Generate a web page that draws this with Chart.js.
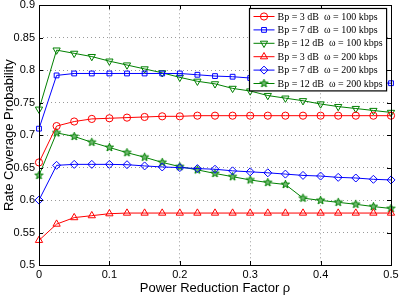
<!DOCTYPE html>
<html>
<head>
<meta charset="utf-8">
<script src="https://cdn.jsdelivr.net/npm/chart.js@4.4.1/dist/chart.umd.min.js"></script>
<style>
  html, body { margin: 0; padding: 0; background: #fff; }
  #wrap { width: 402px; height: 300px; }
</style>
</head>
<body>
<div id="wrap"><canvas id="chart" width="402" height="300"></canvas></div>
<script>
// Power reduction factor rho (x) and tick labels
const rho = [0, 0.025, 0.05, 0.075, 0.1, 0.125, 0.15, 0.175, 0.2, 0.225, 0.25,
  0.275, 0.3, 0.325, 0.35, 0.375, 0.4, 0.425, 0.45, 0.475, 0.5];
const xTicks = [0, 0.1, 0.2, 0.3, 0.4, 0.5];
const yTicks = [0.5, 0.55, 0.6, 0.65, 0.7, 0.75, 0.8, 0.85, 0.9];

// Rate coverage probability per curve
const bp3w100 = [0.658, 0.714, 0.721, 0.725, 0.726, 0.727, 0.728, 0.729, 0.729, 0.730, 0.730,
  0.730, 0.730, 0.730, 0.730, 0.730, 0.730, 0.730, 0.730, 0.730, 0.730];
const bp7w100 = [0.710, 0.792, 0.795, 0.795, 0.795, 0.795, 0.795, 0.795, 0.795, 0.793, 0.791,
  0.790, 0.788, 0.787, 0.786, 0.785, 0.784, 0.783, 0.782, 0.781, 0.780];
const bp12w100 = [0.740, 0.831, 0.826, 0.821, 0.814, 0.808, 0.802, 0.796, 0.789, 0.783, 0.779,
  0.772, 0.768, 0.761, 0.757, 0.753, 0.748, 0.744, 0.741, 0.738, 0.735];
const bp3w200 = [0.538, 0.563, 0.573, 0.576, 0.579, 0.580, 0.580, 0.580, 0.580, 0.580, 0.580,
  0.580, 0.580, 0.580, 0.580, 0.580, 0.580, 0.580, 0.580, 0.580, 0.580];
const bp7w200 = [0.600, 0.6535, 0.655, 0.655, 0.655, 0.6545, 0.6526, 0.651, 0.650, 0.6485, 0.6475,
  0.645, 0.6435, 0.642, 0.640, 0.638, 0.637, 0.635, 0.634, 0.632, 0.631];
const bp12w200 = [0.638, 0.7035, 0.698, 0.689, 0.681, 0.673, 0.666, 0.658, 0.6515, 0.6465, 0.641,
  0.636, 0.631, 0.627, 0.624, 0.603, 0.5995, 0.5965, 0.5935, 0.590, 0.587];

const seriesLabels = [
  'Bp = 3 dB  \u03C9 = 100 kbps',
  'Bp = 7 dB  \u03C9 = 100 kbps',
  'Bp = 12 dB  \u03C9 = 100 kbps',
  'Bp = 3 dB  \u03C9 = 200 kbps',
  'Bp = 7 dB  \u03C9 = 200 kbps',
  'Bp = 12 dB  \u03C9 = 200 kbps'
];

const RED = '#ff0000';
const BLUE = '#0000ff';
const GREEN = '#008000';

// pentagram marker (Chart.js has no 5-point star)
function makeStar(color, r) {
  const size = Math.ceil(r * 2 + 2);
  const c = document.createElement('canvas');
  c.width = size; c.height = size;
  const g = c.getContext('2d');
  const cx = size / 2, cy = size / 2;
  g.beginPath();
  for (let i = 0; i < 10; i++) {
    const rad = i % 2 === 0 ? r : r * 0.42;
    const a = -Math.PI / 2 + i * Math.PI / 5;
    const px = cx + rad * Math.cos(a), py = cy + rad * Math.sin(a);
    if (i === 0) g.moveTo(px, py); else g.lineTo(px, py);
  }
  g.closePath();
  g.fillStyle = '#6fb86f';
  g.fill();
  g.strokeStyle = color;
  g.lineWidth = 1;
  g.stroke();
  return c;
}
const star = makeStar(GREEN, 4.3);

function series(label, values, color, style, extra) {
  return Object.assign({
    label,
    data: values.map((v, i) => ({ x: rho[i], y: v })),
    borderColor: color,
    backgroundColor: 'rgba(0,0,0,0)',
    borderWidth: 1,
    pointStyle: style,
    pointRadius: 3.6,
    pointBorderWidth: 1,
    pointBorderColor: color,
    pointBackgroundColor: 'rgba(0,0,0,0)',
    tension: 0,
    clip: false
  }, extra || {});
}

const datasets = [
  series(seriesLabels[0], bp3w100, RED, 'circle'),
  series(seriesLabels[1], bp7w100, BLUE, 'rect', { pointRadius: 3.4 }),
  series(seriesLabels[2], bp12w100, GREEN, 'triangle', { pointRotation: 180, pointRadius: 4.2 }),
  series(seriesLabels[3], bp3w200, RED, 'triangle', { pointRadius: 4.2 }),
  series(seriesLabels[4], bp7w200, BLUE, 'rectRot', { pointRadius: 4 }),
  series(seriesLabels[5], bp12w200, GREEN, star, { pointRadius: 4.3 })
];

// axes box with inward ticks, MATLAB style
const framePlugin = {
  id: 'frame',
  afterDatasetsDraw(chart) {
    const { ctx, chartArea: a, scales } = chart;
    ctx.save();
    ctx.strokeStyle = '#000';
    ctx.lineWidth = 1;
    ctx.strokeRect(Math.round(a.left) + 0.5, Math.round(a.top) + 0.5,
      Math.round(a.right - a.left), Math.round(a.bottom - a.top));
    ctx.beginPath();
    for (const t of xTicks) {
      const px = Math.round(scales.x.getPixelForValue(t)) + 0.5;
      ctx.moveTo(px, a.bottom); ctx.lineTo(px, a.bottom - 4);
      ctx.moveTo(px, a.top); ctx.lineTo(px, a.top + 4);
    }
    for (const t of yTicks) {
      const py = Math.round(scales.y.getPixelForValue(t)) + 0.5;
      ctx.moveTo(a.left, py); ctx.lineTo(a.left + 4, py);
      ctx.moveTo(a.right, py); ctx.lineTo(a.right - 4, py);
    }
    ctx.stroke();
    ctx.restore();
  }
};

// legend box inside the axes, top right
const boxLegend = {
  id: 'boxLegend',
  afterDraw(chart) {
    const { ctx, chartArea: a } = chart;
    const rowH = 13.4;
    ctx.save();
    ctx.font = '10px "Liberation Serif", "Times New Roman", serif';
    let tw = 0;
    for (const ds of chart.data.datasets) tw = Math.max(tw, ctx.measureText(ds.label).width);
    const w = 28 + tw + 4;
    const h = rowH * chart.data.datasets.length + 2;
    const right = a.right - 5;
    const left = Math.round(right - w) + 0.5;
    const top = Math.round(a.top + 3) + 0.5;
    ctx.fillStyle = '#fff';
    ctx.fillRect(left, top, w, h);
    ctx.strokeStyle = '#000';
    ctx.lineWidth = 1.2;
    ctx.strokeRect(left, top, w, h);
    ctx.textBaseline = 'middle';
    chart.data.datasets.forEach((ds, i) => {
      const y = top + 8 + i * rowH;
      ctx.strokeStyle = ds.borderColor;
      ctx.lineWidth = 1;
      ctx.beginPath();
      ctx.moveTo(left + 4, y); ctx.lineTo(left + 25, y);
      ctx.stroke();
      ctx.fillStyle = 'rgba(0,0,0,0)';
      Chart.helpers.drawPoint(ctx, {
        pointStyle: ds.pointStyle,
        radius: ds.pointRadius,
        rotation: ds.pointRotation || 0,
        borderWidth: 1
      }, left + 14.5, y);
      ctx.fillStyle = '#000';
      ctx.fillText(ds.label, left + 28, y + 0.5);
    });
    ctx.restore();
  }
};

const tickFont = { family: '"Liberation Sans", Arial, Helvetica, sans-serif', size: 11 };
const titleFont = { family: '"Liberation Sans", Arial, Helvetica, sans-serif', size: 13 };

new Chart(document.getElementById('chart'), {
  type: 'line',
  data: { datasets },
  options: {
    responsive: false,
    animation: false,
    layout: { padding: { top: -2, right: 11, left: 0, bottom: 0 } },
    plugins: { legend: { display: false }, tooltip: { enabled: false } },
    scales: {
      x: {
        type: 'linear',
        min: 0,
        max: 0.5,
        afterBuildTicks: s => { s.ticks = xTicks.map(v => ({ value: v })); },
        ticks: { color: '#000', font: tickFont, padding: 3, maxRotation: 0,
          callback: v => String(Number(v.toFixed(2))) },
        grid: { color: '#9a9a9a', drawTicks: false, lineWidth: 1 },
        border: { display: false, dash: [1, 3] },
        title: { display: true, text: 'Power Reduction Factor \u03C1', color: '#000', font: titleFont,
          padding: { top: 0, bottom: 4 } },
        afterFit: s => { s.height = 35; s.paddingRight = 0; s.paddingLeft = 0; }
      },
      y: {
        min: 0.5,
        max: 0.9,
        afterBuildTicks: s => { s.ticks = yTicks.map(v => ({ value: v })); },
        ticks: { color: '#000', font: tickFont, padding: 4,
          callback: v => String(Number(v.toFixed(2))) },
        grid: { color: '#9a9a9a', drawTicks: false, lineWidth: 1 },
        border: { display: false, dash: [1, 3] },
        title: { display: true, text: 'Rate Coverage Probability', color: '#000', font: titleFont,
          padding: { top: 2, bottom: 0 } },
        afterFit: s => { s.width = 39; s.paddingTop = 0; s.paddingBottom = 0; }
      }
    }
  },
  plugins: [framePlugin, boxLegend]
});
</script>
</body>
</html>
